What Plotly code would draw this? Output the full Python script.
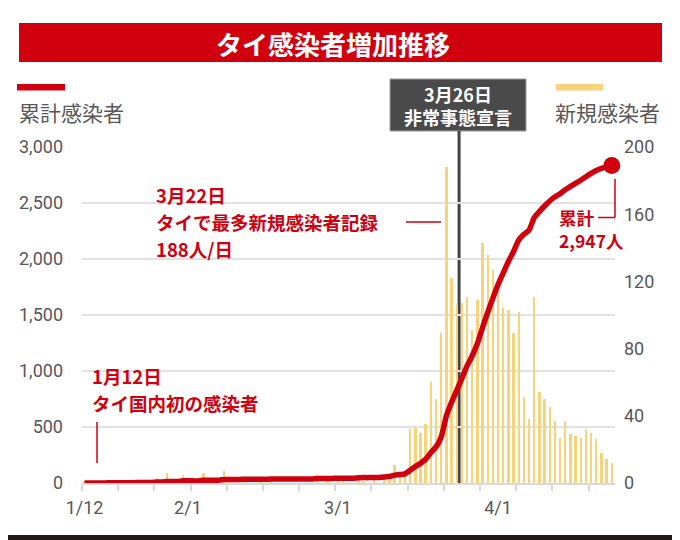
import plotly.graph_objects as go
import pandas as pd
from itertools import accumulate

# daily new cases, 2020-01-12 .. 2020-04-23
jan_new = [1, 0, 0, 0, 0, 1, 0, 0, 0, 0, 2, 0, 1, 0, 3, 0, 6, 0, 0, 5]
feb_new = [0, 0, 0, 6, 0, 0, 0, 7, 0, 0, 0, 1, 0, 0, 1, 0, 1, 0, 0, 0,
           0, 0, 0, 0, 0, 5, 0, 1, 0]
mar_new = [1, 1, 0, 0, 4, 1, 0, 2, 0, 3, 6, 11, 5, 7, 32, 33, 30, 35, 60, 50,
           89, 188, 122, 106, 107, 111, 91, 109, 143, 136, 127]
apr_new = [120, 104, 103, 89, 102, 51, 38, 111, 54, 50, 45, 37, 27, 37, 29,
           28, 27, 32, 30, 26, 18, 14, 12]

new_cases = jan_new + feb_new + mar_new + apr_new
dates = pd.date_range('2020-01-12', periods=len(new_cases), freq='D')
cumulative = list(accumulate(new_cases))

tick_dates = ['2020-01-12', '2020-02-01', '2020-03-01', '2020-04-01']
tick_text = ['1/12', '2/1', '3/1', '4/1']
left_ticks = [0, 500, 1000, 1500, 2000, 2500, 3000]
right_ticks = [0, 40, 80, 120, 160, 200]
declare_pos = '2020-03-24 11:00'

RED = '#d0000f'
YELLOW = '#f9d27c'
GREY = '#595757'
JP = 'Noto Sans CJK JP'

# page body has an 8px margin, so the figure sits 8px in from the window corner
OFF = 8
# plot area in window pixels
L, R, T, B = 82, 615, 147, 483


def px(x):
    return (x - L) / (R - L)


def py(y):
    return (B - y) / (B - T)


fig = go.Figure()
fig.add_trace(go.Bar(
    x=dates, y=new_cases, marker_color=YELLOW, marker_line_width=0,
    width=0.47 * 86400000
))
fig.add_trace(go.Scatter(
    x=dates, y=cumulative, yaxis='y2', mode='lines',
    line=dict(color=RED, width=5.5, shape='spline', smoothing=0.6)
))
fig.add_trace(go.Scatter(
    x=[dates[-1]], y=[cumulative[-1]], yaxis='y2', mode='markers',
    marker=dict(color=RED, size=17), cliponaxis=False
))


def rect(x0, x1, y0, y1, color, line=None):
    fig.add_shape(type='rect', xref='paper', yref='paper', layer='below',
                  x0=px(x0), x1=px(x1), y0=py(y1), y1=py(y0),
                  fillcolor=color, line=line or dict(width=0))


def seg(x0, y0, x1, y1, color=RED, width=1.5):
    fig.add_shape(type='line', xref='paper', yref='paper', layer='above',
                  x0=px(x0), x1=px(x1), y0=py(y0), y1=py(y1),
                  line=dict(color=color, width=width))


def text(x, y, s, size, color, anchor='left', weight='normal', align='left'):
    fig.add_annotation(x=px(x), y=py(y), xref='paper', yref='paper',
                       text=s, showarrow=False, xanchor=anchor, yanchor='middle',
                       align=align,
                       font=dict(family=JP, size=size, color=color, weight=weight))


rect(5, 675, 5, 535, 'white')
rect(19, 662, 23, 62, RED)
rect(17, 65, 84, 90.5, RED)
rect(556, 603, 84, 90.5, YELLOW)
rect(390, 526, 79, 131, '#4a4a4a', dict(color='#9a9a9a', width=1))

fig.add_shape(type='line', xref='x', yref='paper', layer='below',
              x0=declare_pos, x1=declare_pos, y0=0, y1=py(131),
              line=dict(color='#444444', width=3))

text(333, 43, 'タイ感染者増加推移', 26, 'white', 'center', 'bold')
text(17, 112, '累計感染者', 21, GREY)
text(662, 112, '新規感染者', 21, GREY, 'right')
text(458, 105, '3月26日<br>非常事態宣言', 18, 'white', 'center', 'bold', 'center')

text(154, 195, '3月22日', 18.5, RED, weight='bold')
text(154, 221.5, 'タイで最多新規感染者記録', 18.5, RED, weight='bold')
text(154, 248.5, '188人/日', 18.5, RED, weight='bold')
seg(406, 222, 441, 222)

text(90, 376, '1月12日', 18.5, RED, weight='bold')
text(90, 403, 'タイ国内初の感染者', 18.5, RED, weight='bold')
seg(97, 422, 97, 463)

text(557, 229, '累計<br>2,947人', 17.5, RED, weight='bold')
seg(615, 179, 615, 217.5)
seg(598, 217.5, 615, 217.5)

tickfont = dict(family='Roboto', size=18, color=GREY)

fig.update_layout(
    width=680, height=540,
    showlegend=False,
    paper_bgcolor='#231815',
    plot_bgcolor='white',
    margin=dict(l=L - OFF, r=680 - R + OFF, t=T - OFF, b=540 - B + OFF, pad=0),
    bargap=0,
    xaxis=dict(
        type='date',
        range=['2020-01-11 12:00', '2020-04-23 15:00'],
        tickvals=tick_dates, ticktext=tick_text, ticks='',
        showgrid=False, zeroline=False,
        showline=True, linecolor='#d9d9d9', linewidth=2,
        tickfont=tickfont, ticklabelstandoff=7,
        minor=dict(ticks='outside', tick0='2020-01-11 12:00',
                   dtick=7 * 86400000, ticklen=6, tickwidth=1.5,
                   tickcolor='#d9d9d9', showgrid=False),
    ),
    yaxis=dict(
        side='right', range=[0, 200], tickvals=right_ticks,
        showgrid=False, zeroline=False, ticks='',
        tickfont=tickfont, ticklabelstandoff=8,
    ),
    yaxis2=dict(
        overlaying='y', side='left', range=[0, 3000], tickvals=left_ticks,
        tickformat=',', showgrid=True, gridcolor='#e2e2e2', gridwidth=1.5,
        zeroline=False, ticks='',
        tickfont=tickfont, ticklabelstandoff=18,
    ),
)

fig.write_html('out.html')
